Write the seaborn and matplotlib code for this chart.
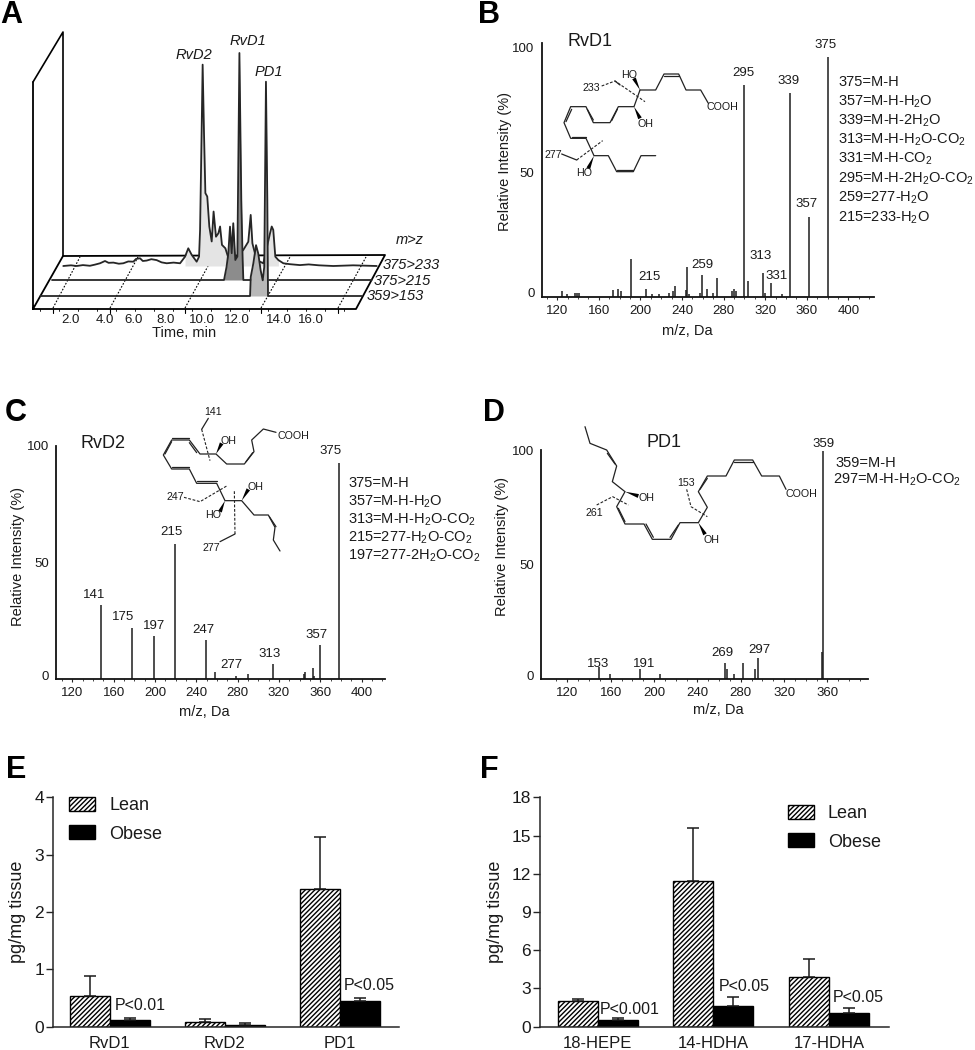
import matplotlib
matplotlib.use('Agg')
import matplotlib.pyplot as plt
from matplotlib.transforms import ScaledTranslation
from matplotlib.patches import Polygon, Patch
import numpy as np
import pandas as pd
import seaborn as sns

sns.set_style('ticks')
plt.rcParams['font.family'] = ['Liberation Sans', 'DejaVu Sans']
plt.rcParams['mathtext.default'] = 'regular'
plt.rcParams['hatch.linewidth'] = 1.0

W, H = 975, 1050

# ---- data ----
# panel A, retention time (min) and intensity (%)
d1_233_t = [0.25, 0.7, 1.03, 1.4, 1.81, 2.1, 2.40, 2.69, 2.9, 3.18, 3.5, 3.76, 4.05, 4.35, 4.5, 4.74, 4.9, 5.13,
            5.4, 5.71, 6.0, 6.30, 6.7, 7.08, 7.37, 7.56, 7.76,
            8.05, 8.19, 8.25, 8.34, 8.40, 8.48, 8.56, 8.67, 8.79, 8.93, 9.04, 9.18, 9.32, 9.42, 9.53, 9.73,
            10.0, 10.78, 11.07, 11.21, 11.31, 11.56, 11.95, 12.34, 12.44, 12.53, 12.65, 12.83, 13.12, 13.5, 14.09,
            14.6, 15.2, 16.04, 17.2, 18.58]
d1_233_i = [0, 0.3, 0, 0.4, 0.1, 0.6, 1.2, 2.2, 1.4, 1.5, 1.0, 1.2, 2.0, 1.9, 3.1, 3.4, 2.2, 2.4,
            3.0, 2.6, 1.6, 1.2, 1.5, 1.2, 4.1, 7.8, 4.9,
            1.9, 4.1, 15.9, 58.5, 88.7, 58.5, 32.1, 30.6, 17.4, 10.8, 24.0, 12.9, 14.4, 17.4, 9.3, 7.8,
            1.2, 7.1, 10.7, 22.5, 10.0, 2.6, 1.2, 14.4, 17.4, 15.9, 4.1, 2.6, 1.2, 0.8, 0.4,
            0.7, 0.3, 0, 0.3, 0]
d2_215_t = [0, 10.06, 10.21, 10.31, 10.41, 10.51, 10.60, 10.72, 10.84, 10.96, 11.07, 11.15, 11.19, 18.69]
d2_215_i = [0, 0, 5.9, 11.8, 23.5, 11.8, 25.0, 8.8, 10.3, 100, 35.3, 8.8, 0, 0]
pd1_153_t = [-0.2, 12.05, 12.09, 12.24, 12.40, 12.53, 12.67, 12.79, 12.88, 12.98, 13.06, 13.10, 18.58]
pd1_153_i = [0, 0, 8.4, 14.3, 22.4, 18.7, 11.3, 6.9, 12.8, 94.4, 42.2, 0, 0]
time_ticks = ['2.0', '4.0', '6.0', '8.0', '10.0', '12.0', '14.0', '16.0']
transitions = ['375>233', '375>215', '359>153']

# panel B
rvd1_mz = [380.3, 362, 343.7, 300.1, 318.1, 326.1, 259.7, 205.3, 191.5, 245.3, 273.5, 304, 233.5,
           125, 129.6, 137, 138.9, 141.2, 174, 178.8, 181.5, 211.7, 217.8, 228, 231.2, 243.7, 247.2,
           257.5, 264.2, 270.3, 288, 290.2, 292.1, 320, 336]
rvd1_int = [96.1, 31.9, 81.5, 84.7, 9.5, 5.5, 8.7, 3.3, 15.1, 11.9, 7.6, 6.3, 4.4,
            2.4, 1.2, 1.5, 1.5, 1.5, 3, 3.3, 2.4, 1.3, 1.3, 1.5, 2.3, 2.8, 1.2,
            1.5, 3.3, 1.5, 2.3, 3.3, 2.5, 1.5, 1.2]
# panel C
rvd2_mz = [377.7, 219.7, 147.4, 177.7, 199.4, 249.4, 360, 314.2, 258, 278, 290.3, 345.2, 344.2, 352.6, 354.2]
rvd2_int = [92.9, 58.1, 31.7, 22.1, 18.7, 16.7, 14.9, 6.6, 3.3, 1.6, 2.1, 3.3, 2.3, 4.7, 1.6]
# panel D
pd1_mz = [356, 355.4, 149.2, 187.4, 159.4, 205.2, 265.2, 267.4, 274.2, 281.8, 295.7, 293.5]
pd1_int = [100, 12.1, 5.5, 4.4, 2.3, 2.3, 7, 4.7, 2.2, 7, 9.2, 4.7]

# panels E and F
groups = ['Lean', 'Obese']
e_names = ['RvD1', 'RvD2', 'PD1']
e_lean = [0.53, 0.09, 2.40]
e_lean_sem = [0.35, 0.04, 0.90]
e_obese = [0.11, 0.03, 0.45]
e_obese_sem = [0.05, 0.03, 0.05]
f_names = ['18-HEPE', '14-HDHA', '17-HDHA']
f_lean = [2.0, 11.4, 3.9]
f_lean_sem = [0.2, 4.2, 1.4]
f_obese = [0.55, 1.65, 1.05]
f_obese_sem = [0.1, 0.7, 0.4]

fig = plt.figure(figsize=(W / 100, H / 100), dpi=100, facecolor='white')

# overlay in pixel coordinates for labels and the drawn structures
ov = fig.add_axes([0, 0, 1, 1], zorder=5)
ov.patch.set_visible(False)


def box_axes(left, top, right, bottom):
    return fig.add_axes([left / W, 1 - bottom / H, (right - left) / W, (bottom - top) / H])


def label(ox, oy, items, size, **kw):
    # items are text, x, y measured on a 3x crop starting at ox, oy
    kw.setdefault('ha', 'center')
    for txt, zx, zy in items:
        ov.text(ox + zx / 3, oy + zy / 3, txt, fontsize=size, va='center', color='#1a1a1a', **kw)


def bonds(ox, oy, lines, lw=0.9, ls='-', color='#222222'):
    for pts in lines:
        xs = [ox + p[0] / 3 for p in pts]
        ys = [oy + p[1] / 3 for p in pts]
        ov.plot(xs, ys, color=color, lw=lw, ls=ls, solid_capstyle='round')


def wedges(ox, oy, items):
    for (x0, y0), (x1, y1) in items:
        dx, dy = x1 - x0, y1 - y0
        n = np.hypot(dx, dy)
        px, py = -dy / n * 6, dx / n * 6
        ov.add_patch(Polygon([(ox + x0 / 3, oy + y0 / 3),
                              (ox + (x1 + px) / 3, oy + (y1 + py) / 3),
                              (ox + (x1 - px) / 3, oy + (y1 - py) / 3)], color='black', lw=0))


# ---- panel A ----
rows = {'233': (22, 266), '215': (15, 280), '153': (7, 296)}


def project(times, ints, row):
    off, base = rows[row]
    xs = 37 + off + 17.1 * np.array(times)
    ys = base - 2.27 * np.array(ints)
    return xs, ys, base


def trace(times, ints, row, fill, lo, hi, z):
    xs, ys, base = project(times, ints, row)
    mask = (np.array(times) >= lo) & (np.array(times) <= hi)
    ov.fill_between(xs[mask], ys[mask], base, color=fill, lw=0, zorder=z)
    sns.lineplot(x=xs, y=ys, sort=False, estimator=None, color='#262626', lw=1.3, ax=ov, zorder=z + 0.5)


# frame
ov.plot([33, 63, 63], [82, 32, 256], color='black', lw=1.2, zorder=1)
ov.plot([33, 33, 356, 385, 63, 33], [82, 309, 309, 255, 256, 309], color='black', lw=1.3, zorder=1)
for x0, x1 in [(53, 80), (110, 138), (185, 213), (261, 290), (338, 366)]:
    ov.plot([x0, x1], [308, 257], color='black', lw=0.8, ls=(0, (1.5, 1.5)), zorder=1)
    ov.plot([x0, x0], [309, 313], color='black', lw=0.8, zorder=1)
for x0 in np.arange(40, 356, 19):
    ov.plot([x0, x0], [309, 311], color='black', lw=0.6, zorder=1)

trace(d1_233_t, d1_233_i, '233', '#e4e4e4', 7.2, 12.9, 2)
trace(d2_215_t, d2_215_i, '215', '#8c8c8c', 10.0, 11.2, 3)
trace(pd1_153_t, pd1_153_i, '153', '#b8b8b8', 12.0, 13.1, 4)

for txt, x in zip(time_ticks, [71, 105, 134, 166, 202, 237, 279, 311]):
    ov.text(x, 320, txt, fontsize=9.5, ha='center', va='center', color='#1a1a1a')
ov.text(184, 333, 'Time, min', fontsize=10.5, ha='center', va='center', color='#1a1a1a')
label(0, 0, [('RvD2', 582, 165), ('RvD1', 745, 123), ('PD1', 806, 216), ('m>z', 1228, 720),
             (transitions[0], 1233, 795), (transitions[1], 1208, 842), (transitions[2], 1186, 889)],
      10.5, style='italic')


# ---- spectra ----
def spectrum(box, xlim, top, mz, inten, ticks, xlabel_at, ylabel_at):
    left, y_top, right, y0 = box
    ax = box_axes(left, y_top, right, y0)
    ax.vlines(mz, 0, inten, color='#1c1c1c', lw=1.1)
    ax.set_xlim(*xlim)
    ax.set_ylim(0, top)
    ax.set_xticks(ticks)
    ax.set_xticks(np.arange(ticks[0] - 10, xlim[1], 10), minor=True)
    ax.set_yticks([0, 50, 100])
    ax.tick_params(axis='x', which='major', length=2.5, width=0.8, pad=3, labelsize=9.5, labelcolor='#1a1a1a')
    ax.tick_params(axis='x', which='minor', length=1.5, width=0.6)
    ax.tick_params(axis='y', length=0, pad=5, labelsize=9.5, labelcolor='#1a1a1a')
    # zero label sits a little above the axis in the original
    lab = ax.get_yticklabels()[0]
    lab.set_transform(lab.get_transform() + ScaledTranslation(0, 3 / 72, fig.dpi_scale_trans))
    sns.despine(ax=ax)
    for s in ['left', 'bottom']:
        ax.spines[s].set_linewidth(1.3)
        ax.spines[s].set_color('#111111')
    ax.set_xlabel('m/z, Da', fontsize=10.5, color='#1a1a1a', va='center')
    ax.set_ylabel('Relative Intensity (%)', fontsize=10.5, color='#1a1a1a', va='center')
    ax.xaxis.set_label_coords((xlabel_at[0] - left) / (right - left), (y0 - xlabel_at[1]) / (y0 - y_top))
    ax.yaxis.set_label_coords((ylabel_at[0] - left) / (right - left), (y0 - ylabel_at[1]) / (y0 - y_top))
    return ax


spectrum((541.5, 43.3, 874.3, 297), (105, 425), 101.5, rvd1_mz, rvd1_int, list(range(120, 401, 40)), (687, 331), (505, 161))
spectrum((56, 446, 385, 679.3), (104.2, 422.6), 100, rvd2_mz, rvd2_int, list(range(120, 401, 40)), (204, 712), (18, 557))
spectrum((541, 450, 867.7, 679.3), (95.7, 397.2), 100.3, pd1_mz, pd1_int, list(range(120, 361, 40)), (718, 710), (502, 546))

# panel B text
label(480, 0, [('375', 1038, 135), ('295', 790, 218), ('339', 926, 244), ('357', 980, 612), ('313', 842, 769),
               ('331', 890, 827), ('259', 667, 794), ('215', 508, 832)], 9.5)
label(480, 0, [('RvD1', 330, 126)], 13)
label(480, 0, [('375=M-H', 1075, 246), ('357=M-H-H$_2$O', 1075, 305), ('339=M-H-2H$_2$O', 1075, 362),
               ('313=M-H-H$_2$O-CO$_2$', 1075, 420), ('331=M-H-CO$_2$', 1075, 477),
               ('295=M-H-2H$_2$O-CO$_2$', 1075, 535), ('259=277-H$_2$O', 1075, 592),
               ('215=233-H$_2$O', 1075, 652)], 10.5, ha='left')
# panel C text
label(0, 390, [('375', 992, 184), ('215', 513, 425), ('141', 283, 614), ('175', 370, 681), ('197', 461, 708),
               ('247', 610, 719), ('277', 695, 824), ('313', 809, 793), ('357', 950, 735)], 9.5)
label(0, 390, [('RvD2', 310, 162)], 13)
label(0, 390, [('375=M-H', 1045, 280), ('357=M-H-H$_2$O', 1045, 334), ('313=M-H-H$_2$O-CO$_2$', 1045, 390),
               ('215=277-H$_2$O-CO$_2$', 1045, 443), ('197=277-2H$_2$O-CO$_2$', 1043, 497)], 10.5, ha='left')
# panel D text
label(490, 390, [('359', 1000, 162), ('153', 323, 823), ('191', 463, 822), ('269', 697, 790), ('297', 808, 780)], 9.5)
label(490, 390, [('PD1', 523, 158)], 13)
label(490, 390, [('359=M-H', 1035, 220), ('297=M-H-H$_2$O-CO$_2$', 1030, 270)], 10.5, ha='left')

# structures, RvD1
bonds(480, 0, [[(480, 270), (527, 270), (552, 222), (596, 222), (618, 270), (662, 270), (685, 310)],
               [(552, 228), (596, 228)], [(480, 270), (462, 320), (415, 320), (390, 368), (340, 368), (318, 320),
                                          (272, 320), (252, 368), (272, 415), (318, 415), (342, 467), (385, 467),
                                          (410, 515), (460, 515), (483, 467), (527, 467)],
               [(395, 362), (412, 328)], [(340, 360), (322, 328)], [(258, 365), (275, 328)],
               [(275, 410), (318, 410)], [(412, 510), (458, 510)], [(245, 462), (290, 480)], [(405, 243), (420, 255)]])
bonds(480, 0, [[(365, 258), (405, 243), (495, 305)], [(290, 480), (368, 422)]], ls=(0, (2.5, 1.5)), lw=0.8)
wedges(480, 0, [((480, 270), (462, 235)), ((462, 320), (480, 355)), ((342, 467), (325, 505))])
label(480, 0, [('HO', 447, 224), ('OH', 497, 372), ('COOH', 726, 320), ('233', 335, 263), ('277', 220, 465),
               ('HO', 312, 520)], 7.7)
# structures, RvD2
bonds(0, 390, [[(828, 127), (790, 117), (755, 150), (762, 185), (733, 222), (680, 222), (648, 192), (600, 192),
                (568, 150), (515, 150), (490, 195), (515, 237), (568, 237), (590, 280), (650, 280), (675, 332),
                (725, 332), (762, 375), (805, 375), (825, 412), (820, 450), (840, 483)],
               [(738, 215), (758, 188)], [(568, 158), (590, 188)], [(515, 144), (568, 144)], [(495, 192), (515, 155)],
               [(515, 232), (568, 232)], [(590, 272), (650, 272)], [(808, 380), (828, 410)],
               [(625, 85), (605, 118)], [(660, 455), (705, 432)]])
bonds(0, 390, [[(605, 118), (630, 212)], [(552, 322), (600, 335), (680, 288)], [(705, 432), (703, 300)]],
      ls=(0, (2.5, 1.5)), lw=0.8)
wedges(0, 390, [((648, 192), (665, 160)), ((725, 332), (745, 298)), ((675, 332), (660, 365))])
label(0, 390, [('141', 640, 67), ('OH', 685, 152), ('COOH', 880, 137), ('OH', 765, 290), ('247', 525, 322),
               ('HO', 640, 375), ('277', 635, 473)], 7.7)
# structures, PD1
bonds(490, 390, [[(285, 110), (300, 160), (350, 180), (380, 228), (367, 275), (405, 305), (380, 350), (405, 402),
                  (462, 402), (487, 448), (543, 448), (570, 398), (625, 398), (652, 352), (625, 305), (652, 258),
                  (708, 258), (733, 210), (788, 210), (815, 258), (868, 258), (888, 298)],
                 [(352, 190), (375, 222)], [(385, 355), (405, 395)], [(468, 402), (490, 442)], [(540, 442), (565, 405)],
                 [(630, 298), (652, 265)], [(733, 216), (788, 216)]])
bonds(490, 390, [[(590, 298), (603, 350), (652, 380)], [(320, 345), (368, 320), (415, 345)]], ls=(0, (2.5, 1.5)), lw=0.8)
wedges(490, 390, [((625, 398), (645, 433)), ((405, 305), (445, 318))])
label(490, 390, [('OH', 470, 324), ('153', 587, 278), ('COOH', 934, 312), ('261', 313, 370), ('OH', 665, 451)], 7.7)


# ---- bar panels ----
def bar_panel(box, names, lean, lean_sem, obese, obese_sem, ymax, yticks, xlim, width, legend_at):
    ax = box_axes(*box)
    df = pd.DataFrame({'name': names * 2,
                       'group': [groups[0]] * 3 + [groups[1]] * 3,
                       'value': lean + obese})
    sns.barplot(data=df, x='name', y='value', hue='group', hue_order=groups, palette=['white', 'black'],
                errorbar=None, width=width, gap=0, edgecolor='black', linewidth=1.0, legend=False, ax=ax)
    for patch in ax.containers[0]:
        patch.set_hatch('///////')
    for cont, means, sem in zip(ax.containers, [lean, obese], [lean_sem, obese_sem]):
        xs = [p.get_x() + p.get_width() / 2 for p in cont]
        ax.errorbar(xs, means, yerr=[np.zeros(3), sem], fmt='none', ecolor='#1a1a1a', elinewidth=1.1,
                    capsize=4, capthick=1.1, zorder=1)
    ax.set_xlim(*xlim)
    ax.set_ylim(0, ymax)
    ax.set_yticks(yticks)
    ax.set_xlabel('')
    ax.set_ylabel('pg/mg tissue', fontsize=13, color='#1a1a1a', va='center')
    ax.tick_params(axis='x', length=0, pad=7, labelsize=12, labelcolor='#1a1a1a')
    ax.tick_params(axis='y', length=5, width=1.0, pad=1.5, labelsize=12.5, labelcolor='#1a1a1a')
    sns.despine(ax=ax)
    for s in ['left', 'bottom']:
        ax.spines[s].set_linewidth(1.1)
    ax.yaxis.set_label_coords(legend_at[2], 0.5)
    handles = [Patch(facecolor='white', edgecolor='black', hatch='///////', lw=1), Patch(facecolor='black', edgecolor='black')]
    fig.legend(handles, groups, loc='upper left', bbox_to_anchor=(legend_at[0] / W, 1 - legend_at[1] / H),
               frameon=False, fontsize=13, handlelength=1.45, handleheight=0.8, handletextpad=0.78,
               labelspacing=0.62, borderpad=0, borderaxespad=0, labelcolor='#1a1a1a')
    return ax


bar_panel((53, 797.3, 399, 1026.7), e_names, e_lean, e_lean_sem, e_obese, e_obese_sem, 4, [0, 1, 2, 3, 4],
          (-0.493, 2.513), 0.696, (69, 797, (18 - 53) / 346))
bar_panel((540, 797.3, 889, 1026.7), f_names, f_lean, f_lean_sem, f_obese, f_obese_sem, 18, [0, 3, 6, 9, 12, 15, 18],
          (-0.5, 2.519), 0.692, (787.5, 805, (496 - 540) / 349))

label(0, 740, [('P<0.01', 420, 796), ('P<0.05', 1108, 737)], 11.5)
label(490, 740, [('P<0.001', 420, 810), ('P<0.05', 763, 740), ('P<0.05', 1105, 774)], 11.5)

# panel letters
for letter, x, y in [('A', 0, 15), ('B', 478, 15), ('C', 5, 413), ('D', 483, 413), ('E', 6, 770), ('F', 480, 770)]:
    ov.text(x, y, letter, fontsize=22, fontweight='bold', ha='left', va='center', color='black')

ov.set_xlim(0, W)
ov.set_ylim(H, 0)
ov.axis('off')

fig.savefig('out.png', dpi=100)
